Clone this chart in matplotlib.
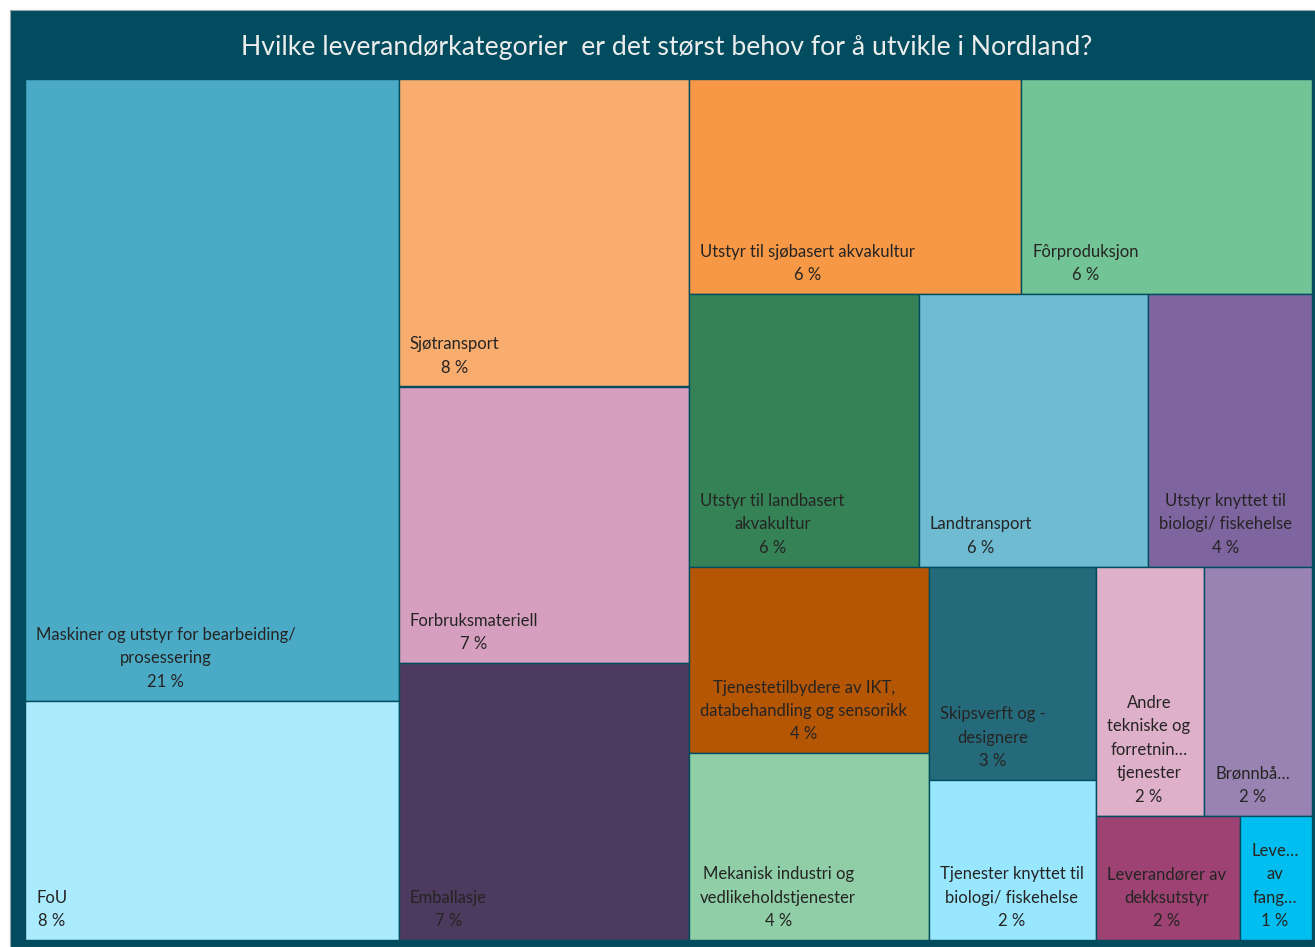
import matplotlib.pyplot as plt
from matplotlib.patches import Rectangle

# survey answers per supplier category (counts), in layout order
labels = [
    "Maskiner og utstyr for bearbeiding/\nprosessering",
    "FoU",
    "Sjøtransport",
    "Forbruksmateriell",
    "Emballasje",
    "Utstyr til sjøbasert akvakultur",
    "Fôrproduksjon",
    "Utstyr til landbasert\nakvakultur",
    "Landtransport",
    "Utstyr knyttet til\nbiologi/ fiskehelse",
    "Tjenestetilbydere av IKT,\ndatabehandling og sensorikk",
    "Mekanisk industri og\nvedlikeholdstjenester",
    "Skipsverft og -\ndesignere",
    "Tjenester knyttet til\nbiologi/ fiskehelse",
    "Andre\ntekniske og\nforretnin…\ntjenester",
    "Brønnbå…",
    "Leverandører av\ndekksutstyr",
    "Leve…\nav\nfang…",
]
counts = [26, 10, 10, 9, 9, 8, 7, 7, 7, 5, 5, 5, 4, 3, 3, 3, 2, 1]
colors = [
    "#4babc6", "#abebfe", "#f8ac6e", "#d69fc0", "#4c3a5f", "#f79847",
    "#72c395", "#358257", "#6fbcd2", "#7f65a0", "#b55605", "#8fcea7",
    "#256a7b", "#99e7ff", "#dfb0ca", "#9883b3", "#9d4272", "#00bff0",
]
# number of items in each strip of the treemap
strips = [2, 3, 2, 3, 2, 2, 2, 1, 1]

title = "Hvilke leverandørkategorier  er det størst behov for å utvikle i Nordland?"

BG = "#014c5e"
TXT = "#252423"

plt.rcParams["font.family"] = ["Lato", "DejaVu Sans"]


def strip_layout(values, strips, x, y, w, h):
    # split the area strip by strip; columns when wide, rows when tall
    rects = []
    rest = sum(values)
    i = 0
    for n in strips:
        group = values[i:i + n]
        s = sum(group)
        if w >= h:
            cw = w * s / rest
            yy = y
            for v in group:
                ch = h * v / s
                rects.append((x, yy, cw, ch))
                yy += ch
            x += cw
            w -= cw
        else:
            rh = h * s / rest
            xx = x
            for v in group:
                rw = w * v / s
                rects.append((xx, y, rw, rh))
                xx += rw
            y += rh
            h -= rh
        rest -= s
        i += n
    return rects


W, H = 1315, 947
fig = plt.figure(figsize=(W / 100, H / 100), dpi=100)
fig.patch.set_facecolor("white")
fig.patches.append(Rectangle((10 / W, 0), 1 - 10 / W, 1 - 10 / H,
                             transform=fig.transFigure, facecolor=BG,
                             edgecolor="#9aa5a8", linewidth=0.8, zorder=-10))
fig.text(667 / W, 1 - 47 / H, title, color="#ececec", fontsize=19.2,
         ha="center", va="center")

aw, ah = 1287, 861
ax = fig.add_axes([25 / W, 7 / H, aw / W, ah / H])
ax.set_xlim(0, aw)
ax.set_ylim(ah, 0)
ax.axis("off")

total = sum(counts)
rects = strip_layout(counts, strips, 0, 0, aw, ah)
renderer = fig.canvas.get_renderer()
pad = 11
for (x, y, w, h), lab, c, col in zip(rects, labels, counts, colors):
    ax.add_patch(Rectangle((x, y), w, h, facecolor=col, edgecolor=BG,
                           linewidth=1.0))
    pct = round(100 * c / total)
    t = ax.text(x + pad, y + h - 11, f"{lab}\n{pct} %", ha="left", va="bottom",
                multialignment="center", fontsize=12, color=TXT,
                linespacing=1.57)
    tw = t.get_window_extent(renderer).width
    if tw > w - 2 * pad:
        t.set_x(x + w / 2)
        t.set_ha("center")

fig.savefig("out.png", dpi=100, facecolor=fig.get_facecolor())
